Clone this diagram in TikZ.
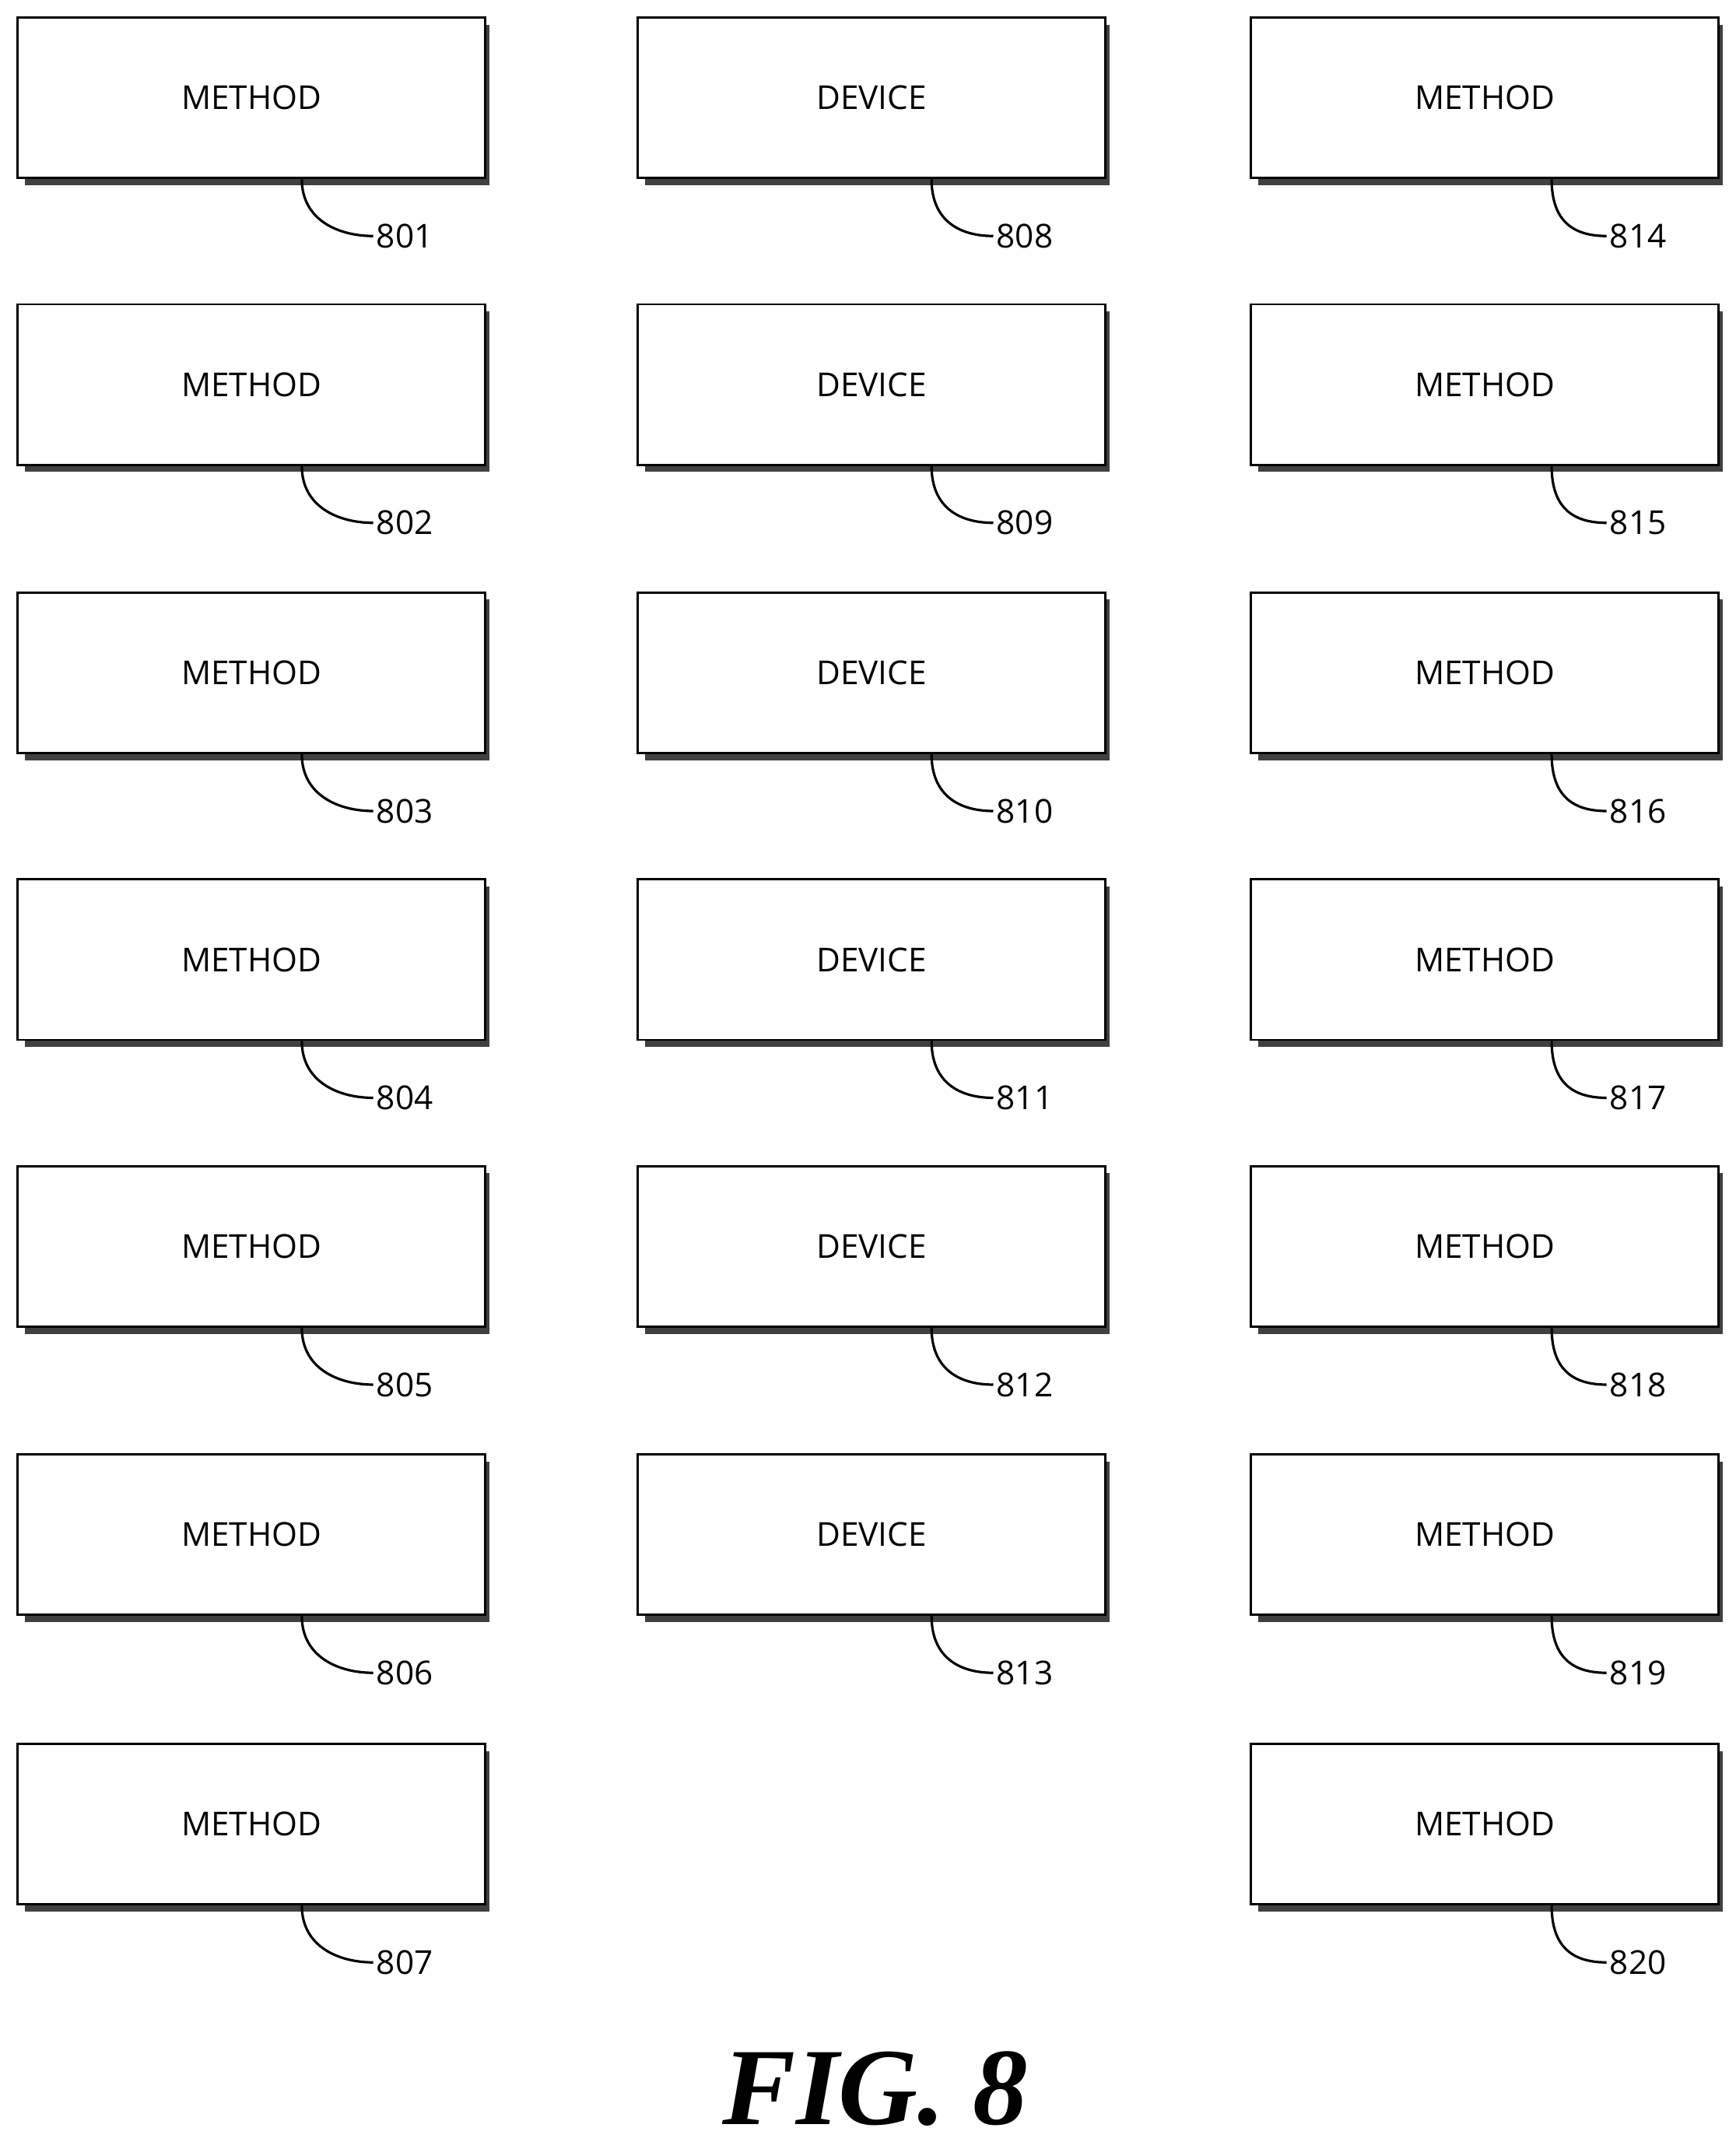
\documentclass[tikz,border=0pt]{standalone}
\usepackage{fontspec}
\setmainfont{Liberation Serif}
\newfontfamily\lab{Open Sans}
\usetikzlibrary{calc}
\begin{document}
\begin{tikzpicture}[x=0.5pt,y=-0.5pt,
  boxst/.style={draw=black,line width=0.8pt,fill=white,minimum width=170.5pt,minimum height=58.5pt,anchor=north west,inner sep=0,font=\lab\fontsize{12}{14}\selectfont},
  shad/.style={fill=black!75},
  numst/.style={anchor=west,inner sep=1pt,font=\lab\fontsize{12}{14}\selectfont},
  lead/.style={line width=0.9pt}]
\path[use as bounding box] (0,0) rectangle (1265,1566);
\newcommand{\mybox}[6]{% name, x, y, text, number, leader-x offset
  \fill[shad] (#2+6,#3+6) rectangle (#2+345,#3+123);
  \node[boxst] (#1) at (#2,#3) {#4};
  \node[numst] (n#1) at (#2+260,#3+160) {#5};
  \draw[lead] ($(#1.south west)+(#6,0)$) .. controls +(0,30) and +(-25,0) .. (n#1.west);
}
\foreach \r/\y in {0/12,1/221,2/431,3/640,4/849,5/1059,6/1270}{
  \pgfmathtruncatemacro{\na}{801+\r}
  \pgfmathtruncatemacro{\nc}{814+\r}
  \mybox{a\r}{12}{\y}{METHOD}{\na}{208}
  \mybox{c\r}{911}{\y}{METHOD}{\nc}{220}
}
\foreach \r/\y in {0/12,1/221,2/431,3/640,4/849,5/1059}{
  \pgfmathtruncatemacro{\nb}{808+\r}
  \mybox{b\r}{464}{\y}{DEVICE}{\nb}{215}
}
\node[font=\bfseries\itshape\fontsize{40}{44}\selectfont] (fig) at (638,1522) {FIG. 8};
\end{tikzpicture}
\end{document}
